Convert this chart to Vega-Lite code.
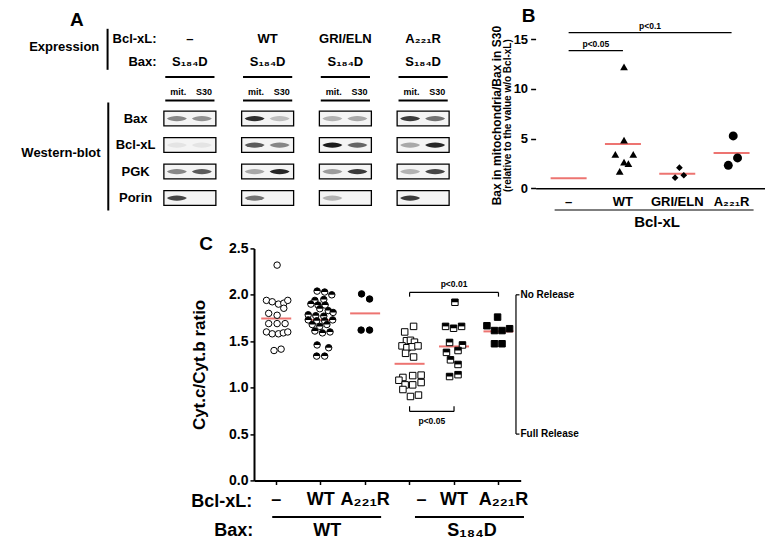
{
  "$schema": "https://vega.github.io/schema/vega-lite/v6.json",
  "background": "white",
  "padding": {"left": 21, "top": 7, "right": 0, "bottom": 0},
  "bounds": "flush",
  "spacing": 209.4,
  "resolve": {"scale": {"xOffset": "independent", "shape": "independent", "fill": "independent", "size": "independent", "opacity": "independent"}},
  "config": {
    "font": "Liberation Sans",
    "view": {"stroke": null},
    "axis": {"labelFontWeight": "bold", "titleFontWeight": "bold", "labelColor": "black", "titleColor": "black", "domainColor": "black", "tickColor": "black", "grid": false, "labelFont": "Liberation Sans", "titleFont": "Liberation Sans"}
  },
  "datasets": {
    "aGroups": [
      {"group": "–", "bax": "S₁₈₄D"},
      {"group": "WT", "bax": "S₁₈₄D"},
      {"group": "GRI/ELN", "bax": "S₁₈₄D"},
      {"group": "A₂₂₁R", "bax": "S₁₈₄D"}
    ],
    "aProteins": [{"protein": "Bax"}, {"protein": "Bcl-xL"}, {"protein": "PGK"}, {"protein": "Porin"}],
    "aBands": [
      {"group": "–", "protein": "Bax", "lane": "mit.", "intensity": 0.5},
      {"group": "–", "protein": "Bax", "lane": "S30", "intensity": 0.45},
      {"group": "–", "protein": "Bcl-xL", "lane": "mit.", "intensity": 0.07},
      {"group": "–", "protein": "Bcl-xL", "lane": "S30", "intensity": 0.07},
      {"group": "–", "protein": "PGK", "lane": "mit.", "intensity": 0.5},
      {"group": "–", "protein": "PGK", "lane": "S30", "intensity": 0.7},
      {"group": "–", "protein": "Porin", "lane": "mit.", "intensity": 0.8},
      {"group": "–", "protein": "Porin", "lane": "S30", "intensity": 0},
      {"group": "WT", "protein": "Bax", "lane": "mit.", "intensity": 0.9},
      {"group": "WT", "protein": "Bax", "lane": "S30", "intensity": 0.25},
      {"group": "WT", "protein": "Bcl-xL", "lane": "mit.", "intensity": 0.7},
      {"group": "WT", "protein": "Bcl-xL", "lane": "S30", "intensity": 0.5},
      {"group": "WT", "protein": "PGK", "lane": "mit.", "intensity": 0.35},
      {"group": "WT", "protein": "PGK", "lane": "S30", "intensity": 0.95},
      {"group": "WT", "protein": "Porin", "lane": "mit.", "intensity": 0.6},
      {"group": "WT", "protein": "Porin", "lane": "S30", "intensity": 0},
      {"group": "GRI/ELN", "protein": "Bax", "lane": "mit.", "intensity": 0.3},
      {"group": "GRI/ELN", "protein": "Bax", "lane": "S30", "intensity": 0.35},
      {"group": "GRI/ELN", "protein": "Bcl-xL", "lane": "mit.", "intensity": 1},
      {"group": "GRI/ELN", "protein": "Bcl-xL", "lane": "S30", "intensity": 0.65},
      {"group": "GRI/ELN", "protein": "PGK", "lane": "mit.", "intensity": 0.4},
      {"group": "GRI/ELN", "protein": "PGK", "lane": "S30", "intensity": 0.85},
      {"group": "GRI/ELN", "protein": "Porin", "lane": "mit.", "intensity": 0.3},
      {"group": "GRI/ELN", "protein": "Porin", "lane": "S30", "intensity": 0},
      {"group": "A₂₂₁R", "protein": "Bax", "lane": "mit.", "intensity": 0.85},
      {"group": "A₂₂₁R", "protein": "Bax", "lane": "S30", "intensity": 0.6},
      {"group": "A₂₂₁R", "protein": "Bcl-xL", "lane": "mit.", "intensity": 0.35},
      {"group": "A₂₂₁R", "protein": "Bcl-xL", "lane": "S30", "intensity": 0.95},
      {"group": "A₂₂₁R", "protein": "PGK", "lane": "mit.", "intensity": 0.3},
      {"group": "A₂₂₁R", "protein": "PGK", "lane": "S30", "intensity": 0.8},
      {"group": "A₂₂₁R", "protein": "Porin", "lane": "mit.", "intensity": 0.85},
      {"group": "A₂₂₁R", "protein": "Porin", "lane": "S30", "intensity": 0}
    ],
    "bPoints": [
      {"bclxl": "WT", "value": 12.2, "jitter": 0.02},
      {"bclxl": "WT", "value": 4.85, "jitter": 0.02},
      {"bclxl": "WT", "value": 3.4, "jitter": -0.14},
      {"bclxl": "WT", "value": 3.4, "jitter": 0.19},
      {"bclxl": "WT", "value": 2.64, "jitter": 0.02},
      {"bclxl": "WT", "value": 2.47, "jitter": 0.1},
      {"bclxl": "WT", "value": 1.7, "jitter": -0.06},
      {"bclxl": "GRI/ELN", "value": 2.07, "jitter": 0.04},
      {"bclxl": "GRI/ELN", "value": 1.07, "jitter": -0.04},
      {"bclxl": "GRI/ELN", "value": 1.31, "jitter": 0.12},
      {"bclxl": "A₂₂₁R", "value": 5.26, "jitter": 0.03},
      {"bclxl": "A₂₂₁R", "value": 3.05, "jitter": 0.11},
      {"bclxl": "A₂₂₁R", "value": 2.31, "jitter": -0.06}
    ],
    "bMeans": [
      {"bclxl": "–", "mean": 1.0},
      {"bclxl": "WT", "mean": 4.45},
      {"bclxl": "GRI/ELN", "mean": 1.47},
      {"bclxl": "A₂₂₁R", "mean": 3.55}
    ],
    "bTests": [
      {"from": "–", "to": "WT", "mid": "WT", "y": 13.83, "label": "p<0.05"},
      {"from": "–", "to": "A₂₂₁R", "mid": "GRI/ELN", "y": 15.64, "label": "p<0.1"}
    ],
    "cPoints": [
      {"group": "WT|–", "value": 2.32, "jitter": 0.02},
      {"group": "WT|–", "value": 1.94, "jitter": -0.22},
      {"group": "WT|–", "value": 1.925, "jitter": -0.09},
      {"group": "WT|–", "value": 1.9, "jitter": 0.05},
      {"group": "WT|–", "value": 1.91, "jitter": 0.17},
      {"group": "WT|–", "value": 1.94, "jitter": 0.26},
      {"group": "WT|–", "value": 1.855, "jitter": 0.17},
      {"group": "WT|–", "value": 1.8, "jitter": -0.17},
      {"group": "WT|–", "value": 1.78, "jitter": 0.02},
      {"group": "WT|–", "value": 1.69, "jitter": -0.17},
      {"group": "WT|–", "value": 1.69, "jitter": 0.02},
      {"group": "WT|–", "value": 1.69, "jitter": 0.2},
      {"group": "WT|–", "value": 1.6, "jitter": -0.22},
      {"group": "WT|–", "value": 1.58, "jitter": -0.09},
      {"group": "WT|–", "value": 1.58, "jitter": 0.05},
      {"group": "WT|–", "value": 1.59, "jitter": 0.16},
      {"group": "WT|–", "value": 1.6, "jitter": 0.26},
      {"group": "WT|–", "value": 1.4, "jitter": -0.05},
      {"group": "WT|–", "value": 1.415, "jitter": 0.11},
      {"group": "WT|WT", "value": 2.04, "jitter": -0.08},
      {"group": "WT|WT", "value": 2.03, "jitter": 0.09},
      {"group": "WT|WT", "value": 2.0, "jitter": 0.25},
      {"group": "WT|WT", "value": 1.94, "jitter": -0.13},
      {"group": "WT|WT", "value": 1.95, "jitter": 0.07},
      {"group": "WT|WT", "value": 1.9, "jitter": -0.22},
      {"group": "WT|WT", "value": 1.89, "jitter": -0.06},
      {"group": "WT|WT", "value": 1.89, "jitter": 0.1},
      {"group": "WT|WT", "value": 1.85, "jitter": -0.02},
      {"group": "WT|WT", "value": 1.83, "jitter": 0.17},
      {"group": "WT|WT", "value": 1.81, "jitter": 0.28},
      {"group": "WT|WT", "value": 1.785, "jitter": -0.28},
      {"group": "WT|WT", "value": 1.775, "jitter": -0.11},
      {"group": "WT|WT", "value": 1.77, "jitter": 0.07},
      {"group": "WT|WT", "value": 1.73, "jitter": -0.28},
      {"group": "WT|WT", "value": 1.72, "jitter": -0.09},
      {"group": "WT|WT", "value": 1.72, "jitter": 0.09},
      {"group": "WT|WT", "value": 1.73, "jitter": 0.27},
      {"group": "WT|WT", "value": 1.68, "jitter": -0.19},
      {"group": "WT|WT", "value": 1.66, "jitter": -0.02},
      {"group": "WT|WT", "value": 1.68, "jitter": 0.14},
      {"group": "WT|WT", "value": 1.61, "jitter": -0.13},
      {"group": "WT|WT", "value": 1.59, "jitter": 0.04},
      {"group": "WT|WT", "value": 1.6, "jitter": 0.21},
      {"group": "WT|WT", "value": 1.46, "jitter": -0.08},
      {"group": "WT|WT", "value": 1.43, "jitter": 0.18},
      {"group": "WT|WT", "value": 1.34, "jitter": -0.09},
      {"group": "WT|WT", "value": 1.34, "jitter": 0.09},
      {"group": "WT|A₂₂₁R", "value": 2.01, "jitter": -0.08},
      {"group": "WT|A₂₂₁R", "value": 1.955, "jitter": 0.1},
      {"group": "WT|A₂₂₁R", "value": 1.62, "jitter": -0.09},
      {"group": "WT|A₂₂₁R", "value": 1.62, "jitter": 0.1},
      {"group": "S₁₈₄D|–", "value": 1.6, "jitter": -0.11},
      {"group": "S₁₈₄D|–", "value": 1.66, "jitter": 0.09},
      {"group": "S₁₈₄D|–", "value": 1.505, "jitter": -0.07},
      {"group": "S₁₈₄D|–", "value": 1.51, "jitter": 0.02},
      {"group": "S₁₈₄D|–", "value": 1.49, "jitter": 0.11},
      {"group": "S₁₈₄D|–", "value": 1.45, "jitter": -0.17},
      {"group": "S₁₈₄D|–", "value": 1.43, "jitter": -0.06},
      {"group": "S₁₈₄D|–", "value": 1.44, "jitter": 0.06},
      {"group": "S₁₈₄D|–", "value": 1.45, "jitter": 0.19},
      {"group": "S₁₈₄D|–", "value": 1.37, "jitter": -0.09},
      {"group": "S₁₈₄D|–", "value": 1.33, "jitter": 0.09},
      {"group": "S₁₈₄D|–", "value": 1.11, "jitter": -0.15},
      {"group": "S₁₈₄D|–", "value": 1.13, "jitter": 0.07},
      {"group": "S₁₈₄D|–", "value": 1.135, "jitter": 0.26},
      {"group": "S₁₈₄D|–", "value": 1.08, "jitter": -0.24},
      {"group": "S₁₈₄D|–", "value": 1.03, "jitter": -0.1},
      {"group": "S₁₈₄D|–", "value": 1.03, "jitter": 0.07},
      {"group": "S₁₈₄D|–", "value": 1.055, "jitter": 0.26},
      {"group": "S₁₈₄D|–", "value": 0.98, "jitter": -0.15},
      {"group": "S₁₈₄D|–", "value": 0.905, "jitter": 0.02},
      {"group": "S₁₈₄D|–", "value": 0.92, "jitter": 0.2},
      {"group": "S₁₈₄D|WT", "value": 1.92, "jitter": 0.02},
      {"group": "S₁₈₄D|WT", "value": 1.66, "jitter": -0.19},
      {"group": "S₁₈₄D|WT", "value": 1.64, "jitter": -0.01},
      {"group": "S₁₈₄D|WT", "value": 1.66, "jitter": 0.17},
      {"group": "S₁₈₄D|WT", "value": 1.487, "jitter": -0.1},
      {"group": "S₁₈₄D|WT", "value": 1.46, "jitter": 0.19},
      {"group": "S₁₈₄D|WT", "value": 1.38, "jitter": -0.17},
      {"group": "S₁₈₄D|WT", "value": 1.4, "jitter": 0.09},
      {"group": "S₁₈₄D|WT", "value": 1.3, "jitter": -0.08},
      {"group": "S₁₈₄D|WT", "value": 1.25, "jitter": 0.09},
      {"group": "S₁₈₄D|WT", "value": 1.12, "jitter": -0.1},
      {"group": "S₁₈₄D|WT", "value": 1.14, "jitter": 0.09},
      {"group": "S₁₈₄D|A₂₂₁R", "value": 1.76, "jitter": -0.02},
      {"group": "S₁₈₄D|A₂₂₁R", "value": 1.667, "jitter": -0.26},
      {"group": "S₁₈₄D|A₂₂₁R", "value": 1.615, "jitter": -0.09},
      {"group": "S₁₈₄D|A₂₂₁R", "value": 1.615, "jitter": 0.08},
      {"group": "S₁₈₄D|A₂₂₁R", "value": 1.635, "jitter": 0.25},
      {"group": "S₁₈₄D|A₂₂₁R", "value": 1.473, "jitter": -0.09},
      {"group": "S₁₈₄D|A₂₂₁R", "value": 1.473, "jitter": 0.08}
    ],
    "cMeans": [
      {"group": "WT|–", "mean": 1.745},
      {"group": "WT|WT", "mean": 1.73},
      {"group": "WT|A₂₂₁R", "mean": 1.8},
      {"group": "S₁₈₄D|–", "mean": 1.257},
      {"group": "S₁₈₄D|WT", "mean": 1.444},
      {"group": "S₁₈₄D|A₂₂₁R", "mean": 1.606}
    ],
    "cTests": [
      {"from": "S₁₈₄D|–", "to": "S₁₈₄D|A₂₂₁R", "y": 2.026, "tip": 1.98, "label": "p<0.01"},
      {"from": "S₁₈₄D|–", "to": "S₁₈₄D|WT", "y": 0.744, "tip": 0.8, "label": "p<0.05"}
    ],
    "cRelease": [
      {"label": "No Release", "y": 2.0},
      {"label": "Full Release", "y": 0.5}
    ]
  },
  "vconcat": [
    {
      "bounds": "flush",
      "spacing": 73.6,
      "resolve": {"scale": {"xOffset": "independent", "opacity": "independent"}},
      "hconcat": [
        {
          "width": 311,
          "height": 159,
          "layer": [
            {
              "data": {"name": "aGroups"},
              "mark": {"type": "text", "fontSize": 13, "fontWeight": "bold", "color": "black"},
              "encoding": {
                "x": {"field": "group", "type": "nominal", "scale": {"type": "point", "domain": ["–", "WT", "GRI/ELN", "A₂₂₁R"], "padding": 0.5}, "axis": null},
                "y": {"datum": "Bcl-xL:", "type": "nominal", "scale": {"type": "point", "domain": ["Bcl-xL:", "Bax:", "lanes", "Bax", "Bcl-xL", "PGK", "Porin"], "padding": 0}, "axis": null},
                "text": {"field": "group"}
              }
            },
            {
              "data": {"name": "aGroups"},
              "mark": {"type": "text", "fontSize": 13, "fontWeight": "bold", "color": "black", "dy": -4},
              "encoding": {
                "x": {"field": "group", "type": "nominal"},
                "y": {"datum": "Bax:", "type": "nominal"},
                "text": {"field": "bax"}
              }
            },
            {
              "data": {"name": "aGroups"},
              "mark": {"type": "rule", "color": "black", "strokeWidth": 2, "xOffset": -24.6, "x2Offset": 24.6, "yOffset": -14.9},
              "encoding": {
                "x": {"field": "group", "type": "nominal"},
                "x2": {"field": "group"},
                "y": {"datum": "lanes", "type": "nominal"}
              }
            },
            {
              "data": {"name": "aGroups"},
              "mark": {"type": "rule", "color": "black", "strokeWidth": 2, "xOffset": -24.6, "x2Offset": 24.6, "yOffset": 8.5},
              "encoding": {
                "x": {"field": "group", "type": "nominal"},
                "x2": {"field": "group"},
                "y": {"datum": "lanes", "type": "nominal"}
              }
            },
            {
              "data": {"name": "aGroups"},
              "mark": {"type": "text", "text": "mit.", "fontSize": 9, "fontWeight": "bold", "color": "black", "dx": -11.6},
              "encoding": {
                "x": {"field": "group", "type": "nominal"},
                "y": {"datum": "lanes", "type": "nominal"}
              }
            },
            {
              "data": {"name": "aGroups"},
              "mark": {"type": "text", "text": "S30", "fontSize": 9, "fontWeight": "bold", "color": "black", "dx": 14},
              "encoding": {
                "x": {"field": "group", "type": "nominal"},
                "y": {"datum": "lanes", "type": "nominal"}
              }
            },
            {
              "data": {"name": "aBands"},
              "transform": [{"filter": "datum.lane === 'mit.'"}],
              "mark": {"type": "point", "shape": "M-1,-0.28H1V0.28H-1Z", "size": 2704, "filled": true, "fill": "#f4f4f4", "stroke": "black", "strokeWidth": 1.3, "opacity": 1},
              "encoding": {
                "x": {"field": "group", "type": "nominal"},
                "y": {"field": "protein", "type": "nominal"}
              }
            },
            {
              "data": {"name": "aBands"},
              "transform": [{"filter": "datum.lane === 'mit.'"}],
              "mark": {"type": "point", "shape": "M-1,0C-0.6,-0.35,0.6,-0.35,1,0C0.6,0.35,-0.6,0.35,-1,0Z", "size": 400, "filled": true, "color": "#1a1a1a", "strokeWidth": 0, "xOffset": -13},
              "encoding": {
                "x": {"field": "group", "type": "nominal"},
                "y": {"field": "protein", "type": "nominal"},
                "opacity": {"field": "intensity", "type": "quantitative", "scale": null}
              }
            },
            {
              "data": {"name": "aBands"},
              "transform": [{"filter": "datum.lane === 'S30'"}],
              "mark": {"type": "point", "shape": "M-1,0C-0.6,-0.35,0.6,-0.35,1,0C0.6,0.35,-0.6,0.35,-1,0Z", "size": 400, "filled": true, "color": "#1a1a1a", "strokeWidth": 0, "xOffset": 12},
              "encoding": {
                "x": {"field": "group", "type": "nominal"},
                "y": {"field": "protein", "type": "nominal"},
                "opacity": {"field": "intensity", "type": "quantitative", "scale": null}
              }
            },
            {
              "data": {"name": "aProteins"},
              "mark": {"type": "text", "fontSize": 13, "fontWeight": "bold", "color": "black", "dx": -54.3},
              "encoding": {
                "x": {"datum": "–", "type": "nominal"},
                "y": {"field": "protein", "type": "nominal"},
                "text": {"field": "protein"}
              }
            },
            {
              "data": {"values": [{"label": "Bcl-xL:"}]},
              "mark": {"type": "text", "fontSize": 13, "fontWeight": "bold", "color": "black", "align": "right", "dx": -33.3},
              "encoding": {
                "x": {"datum": "–", "type": "nominal"},
                "y": {"datum": "Bcl-xL:", "type": "nominal"},
                "text": {"field": "label"}
              }
            },
            {
              "data": {"values": [{"label": "Bax:"}]},
              "mark": {"type": "text", "fontSize": 13, "fontWeight": "bold", "color": "black", "align": "right", "dx": -33.3, "dy": -4},
              "encoding": {
                "x": {"datum": "–", "type": "nominal"},
                "y": {"datum": "Bax:", "type": "nominal"},
                "text": {"field": "label"}
              }
            },
            {
              "data": {"values": [{"label": "Expression"}]},
              "mark": {"type": "text", "fontSize": 13, "fontWeight": "bold", "color": "black", "align": "right", "dx": -90.6, "dy": 7.5},
              "encoding": {
                "x": {"datum": "–", "type": "nominal"},
                "y": {"datum": "Bcl-xL:", "type": "nominal"},
                "text": {"field": "label"}
              }
            },
            {
              "data": {"values": [{"label": "Western-blot"}]},
              "mark": {"type": "text", "fontSize": 13, "fontWeight": "bold", "color": "black", "align": "right", "dx": -89.3, "dy": 8},
              "encoding": {
                "x": {"datum": "–", "type": "nominal"},
                "y": {"datum": "Bcl-xL", "type": "nominal"},
                "text": {"field": "label"}
              }
            },
            {
              "data": {"values": [{"label": "A"}]},
              "mark": {"type": "text", "fontSize": 19, "fontWeight": "bold", "color": "black", "dx": -113, "dy": -19},
              "encoding": {
                "x": {"datum": "–", "type": "nominal"},
                "y": {"datum": "Bcl-xL:", "type": "nominal"},
                "text": {"field": "label"}
              }
            },
            {
              "data": {"values": [{"bracket": "Expression"}]},
              "mark": {"type": "rule", "color": "black", "strokeWidth": 2, "xOffset": -82.3, "yOffset": -10.2, "y2Offset": 4.3},
              "encoding": {
                "x": {"datum": "–", "type": "nominal"},
                "y": {"datum": "Bcl-xL:", "type": "nominal"},
                "y2": {"datum": "Bax:"}
              }
            },
            {
              "data": {"values": [{"bracket": "Western-blot"}]},
              "mark": {"type": "rule", "color": "black", "strokeWidth": 2, "xOffset": -81.6, "yOffset": 10.5, "y2Offset": 12.5},
              "encoding": {
                "x": {"datum": "–", "type": "nominal"},
                "y": {"datum": "lanes", "type": "nominal"},
                "y2": {"datum": "Porin"}
              }
            }
          ]
        },
        {
          "width": 229,
          "height": 149.3,
          "layer": [
            {
              "data": {"name": "bMeans"},
              "mark": {"type": "tick", "color": "#e53935", "size": 36, "thickness": 2},
              "encoding": {
                "x": {"field": "bclxl", "type": "nominal", "scale": {"type": "band", "domain": ["–", "WT", "GRI/ELN", "A₂₂₁R"], "paddingInner": 0, "paddingOuter": 0.108},
                  "axis": {"title": "Bcl-xL", "titleFontSize": 15, "titlePadding": 6, "titleX": 121, "labelFontSize": 13, "labelPadding": 7, "labelAngle": 0, "ticks": false, "tickSize": 0, "domainWidth": 1.5}},
                "y": {"field": "mean", "type": "quantitative", "scale": {"domain": [0, 15], "nice": false},
                  "axis": {"values": [0, 5, 10, 15], "title": null, "domain": false, "tickSize": 5, "tickWidth": 1.5, "labelFontSize": 13, "labelPadding": 3}}
              }
            },
            {
              "data": {"name": "bPoints"},
              "transform": [{"filter": "datum.bclxl === 'WT'"}],
              "mark": {"type": "point", "shape": "triangle-up", "size": 60, "filled": true, "color": "black", "opacity": 1},
              "encoding": {
                "x": {"field": "bclxl", "type": "nominal"},
                "xOffset": {"field": "jitter", "type": "quantitative", "scale": {"domain": [-0.5, 0.5]}},
                "y": {"field": "value", "type": "quantitative"}
              }
            },
            {
              "data": {"name": "bPoints"},
              "transform": [{"filter": "datum.bclxl === 'GRI/ELN'"}],
              "mark": {"type": "point", "shape": "diamond", "size": 45, "filled": true, "color": "black", "opacity": 1},
              "encoding": {
                "x": {"field": "bclxl", "type": "nominal"},
                "xOffset": {"field": "jitter", "type": "quantitative"},
                "y": {"field": "value", "type": "quantitative"}
              }
            },
            {
              "data": {"name": "bPoints"},
              "transform": [{"filter": "datum.bclxl === 'A₂₂₁R'"}],
              "mark": {"type": "point", "shape": "circle", "size": 80, "filled": true, "color": "black", "opacity": 1},
              "encoding": {
                "x": {"field": "bclxl", "type": "nominal"},
                "xOffset": {"field": "jitter", "type": "quantitative"},
                "y": {"field": "value", "type": "quantitative"}
              }
            },
            {
              "data": {"name": "bTests"},
              "mark": {"type": "rule", "color": "black", "strokeWidth": 1.2},
              "encoding": {
                "x": {"field": "from", "type": "nominal"},
                "x2": {"field": "to"},
                "y": {"field": "y", "type": "quantitative"}
              }
            },
            {
              "data": {"name": "bTests"},
              "mark": {"type": "text", "fontSize": 8.5, "fontWeight": "bold", "color": "black", "baseline": "bottom", "dy": -2},
              "encoding": {
                "x": {"field": "mid", "type": "nominal"},
                "xOffset": {"datum": -0.5, "type": "quantitative"},
                "y": {"field": "y", "type": "quantitative"},
                "text": {"field": "label"}
              }
            },
            {
              "data": {"values": [{"label": "Bcl-xL underline"}]},
              "mark": {"type": "rule", "color": "black", "strokeWidth": 1.2, "xOffset": -14, "x2Offset": 22, "yOffset": 21.7},
              "encoding": {
                "x": {"datum": "–", "type": "nominal"},
                "x2": {"datum": "A₂₂₁R"},
                "y": {"datum": 0, "type": "quantitative"}
              }
            },
            {
              "data": {"values": [{"label": "Bax in mitochondria/Bax in S30"}]},
              "mark": {"type": "text", "fontSize": 12, "fontWeight": "bold", "color": "black", "angle": 270, "xOffset": -72},
              "encoding": {
                "x": {"datum": "–", "type": "nominal"},
                "y": {"datum": 7.3, "type": "quantitative"},
                "text": {"field": "label"}
              }
            },
            {
              "data": {"values": [{"label": "(relative to the value w/o Bcl-xL)"}]},
              "mark": {"type": "text", "fontSize": 10, "fontWeight": "bold", "color": "black", "angle": 270, "xOffset": -60.3},
              "encoding": {
                "x": {"datum": "–", "type": "nominal"},
                "y": {"datum": 7.3, "type": "quantitative"},
                "text": {"field": "label"}
              }
            },
            {
              "data": {"values": [{"label": "B"}]},
              "mark": {"type": "text", "fontSize": 19, "fontWeight": "bold", "color": "black", "dx": -40, "dy": -23},
              "encoding": {
                "x": {"datum": "–", "type": "nominal"},
                "y": {"datum": 15, "type": "quantitative"},
                "text": {"field": "label"}
              }
            }
          ]
        }
      ]
    },
    {
      "bounds": "flush",
      "spacing": 7,
      "resolve": {"scale": {"xOffset": "independent"}},
      "hconcat": [
        {"width": 95.6, "height": 10, "data": {"values": []}, "mark": "point"},
        {
          "width": 266.7,
          "height": 232.1,
          "layer": [
            {
              "data": {"name": "cMeans"},
              "mark": {"type": "tick", "color": "#e53935", "size": 30, "thickness": 2},
              "encoding": {
                "x": {"field": "group", "type": "nominal", "scale": {"type": "band", "domain": ["WT|–", "WT|WT", "WT|A₂₂₁R", "S₁₈₄D|–", "S₁₈₄D|WT", "S₁₈₄D|A₂₂₁R"], "paddingInner": 0, "paddingOuter": 0},
                  "axis": {"title": null, "labelExpr": "slice(datum.label, indexof(datum.label, '|') + 1)", "labelFontSize": 18, "labelPadding": 6, "labelAngle": 0, "tickSize": 4, "tickWidth": 1.5, "domainWidth": 2,
                    "labelOffset": {"condition": [{"test": "datum.value === 'S₁₈₄D|–'", "value": 12}, {"test": "datum.value === 'S₁₈₄D|A₂₂₁R'", "value": 5}], "value": 0}}},
                "y": {"field": "mean", "type": "quantitative", "scale": {"domain": [0, 2.5], "nice": false},
                  "axis": {"values": [0, 0.5, 1, 1.5, 2, 2.5], "format": ".1f", "title": "Cyt.c/Cyt.b ratio", "titleFontSize": 17, "titlePadding": 20, "labelFontSize": 14, "labelPadding": 2, "tickSize": 4, "tickWidth": 1.5, "domainWidth": 2}}
              }
            },
            {
              "data": {"name": "cPoints"},
              "transform": [{"filter": {"field": "group", "oneOf": ["WT|–", "WT|WT"]}}],
              "mark": {"type": "point", "shape": "circle", "filled": true, "fill": "white", "stroke": "black", "strokeWidth": 1, "size": 42, "opacity": 1},
              "encoding": {
                "x": {"field": "group", "type": "nominal"},
                "xOffset": {"field": "jitter", "type": "quantitative", "scale": {"domain": [-0.5, 0.5]}},
                "y": {"field": "value", "type": "quantitative"}
              }
            },
            {
              "data": {"name": "cPoints"},
              "transform": [{"filter": {"field": "group", "oneOf": ["WT|A₂₂₁R"]}}],
              "mark": {"type": "point", "shape": "circle", "filled": true, "fill": "black", "stroke": "black", "strokeWidth": 1, "size": 42, "opacity": 1},
              "encoding": {
                "x": {"field": "group", "type": "nominal"},
                "xOffset": {"field": "jitter", "type": "quantitative"},
                "y": {"field": "value", "type": "quantitative"}
              }
            },
            {
              "data": {"name": "cPoints"},
              "transform": [{"filter": {"field": "group", "oneOf": ["S₁₈₄D|–", "S₁₈₄D|WT"]}}],
              "mark": {"type": "point", "shape": "square", "filled": true, "fill": "white", "stroke": "black", "strokeWidth": 1, "size": 42, "opacity": 1},
              "encoding": {
                "x": {"field": "group", "type": "nominal"},
                "xOffset": {"field": "jitter", "type": "quantitative"},
                "y": {"field": "value", "type": "quantitative"}
              }
            },
            {
              "data": {"name": "cPoints"},
              "transform": [{"filter": {"field": "group", "oneOf": ["S₁₈₄D|A₂₂₁R"]}}],
              "mark": {"type": "point", "shape": "square", "filled": true, "fill": "black", "stroke": "black", "strokeWidth": 1, "size": 42, "opacity": 1},
              "encoding": {
                "x": {"field": "group", "type": "nominal"},
                "xOffset": {"field": "jitter", "type": "quantitative"},
                "y": {"field": "value", "type": "quantitative"}
              }
            },
            {
              "data": {"name": "cPoints"},
              "transform": [{"filter": "datum.group === 'WT|WT'"}],
              "mark": {"type": "point", "filled": true, "color": "black", "strokeWidth": 0, "size": 42, "opacity": 1, "shape": "M-1,0A1,1,0,0,1,1,0Z"},
              "encoding": {
                "x": {"field": "group", "type": "nominal"},
                "xOffset": {"field": "jitter", "type": "quantitative"},
                "y": {"field": "value", "type": "quantitative"}
              }
            },
            {
              "data": {"name": "cPoints"},
              "transform": [{"filter": "datum.group === 'S₁₈₄D|WT'"}],
              "mark": {"type": "point", "filled": true, "color": "black", "strokeWidth": 0, "size": 42, "opacity": 1, "shape": "M-1,-1H1V0H-1Z"},
              "encoding": {
                "x": {"field": "group", "type": "nominal"},
                "xOffset": {"field": "jitter", "type": "quantitative"},
                "y": {"field": "value", "type": "quantitative"}
              }
            },
            {
              "data": {"name": "cTests"},
              "mark": {"type": "rule", "color": "black", "strokeWidth": 1.2},
              "encoding": {
                "x": {"field": "from", "type": "nominal"},
                "x2": {"field": "to"},
                "y": {"field": "y", "type": "quantitative"}
              }
            },
            {
              "data": {"name": "cTests"},
              "mark": {"type": "rule", "color": "black", "strokeWidth": 1.2},
              "encoding": {
                "x": {"field": "from", "type": "nominal"},
                "y": {"field": "y", "type": "quantitative"},
                "y2": {"field": "tip"}
              }
            },
            {
              "data": {"name": "cTests"},
              "mark": {"type": "rule", "color": "black", "strokeWidth": 1.2},
              "encoding": {
                "x": {"field": "to", "type": "nominal"},
                "y": {"field": "y", "type": "quantitative"},
                "y2": {"field": "tip"}
              }
            },
            {
              "data": {"name": "cTests"},
              "transform": [{"filter": "datum.label === 'p<0.01'"}],
              "mark": {"type": "text", "fontSize": 8.5, "fontWeight": "bold", "color": "black", "baseline": "bottom", "dy": -3},
              "encoding": {
                "x": {"datum": "S₁₈₄D|WT", "type": "nominal"},
                "y": {"field": "y", "type": "quantitative"},
                "text": {"field": "label"}
              }
            },
            {
              "data": {"name": "cTests"},
              "transform": [{"filter": "datum.label === 'p<0.05'"}],
              "mark": {"type": "text", "fontSize": 8.5, "fontWeight": "bold", "color": "black", "baseline": "top", "dy": 6},
              "encoding": {
                "x": {"datum": "S₁₈₄D|WT", "type": "nominal"},
                "xOffset": {"datum": -0.5, "type": "quantitative"},
                "y": {"field": "y", "type": "quantitative"},
                "text": {"field": "label"}
              }
            },
            {
              "data": {"values": [{"top": 2.0, "bottom": 0.5}]},
              "mark": {"type": "rule", "color": "black", "strokeWidth": 1.2, "xOffset": 17.5},
              "encoding": {
                "x": {"datum": "S₁₈₄D|A₂₂₁R", "type": "nominal"},
                "y": {"field": "top", "type": "quantitative"},
                "y2": {"field": "bottom"}
              }
            },
            {
              "data": {"name": "cRelease"},
              "mark": {"type": "rule", "color": "black", "strokeWidth": 1.2, "xOffset": 17.5, "x2Offset": 21},
              "encoding": {
                "x": {"datum": "S₁₈₄D|A₂₂₁R", "type": "nominal"},
                "x2": {"datum": "S₁₈₄D|A₂₂₁R"},
                "y": {"field": "y", "type": "quantitative"}
              }
            },
            {
              "data": {"name": "cRelease"},
              "mark": {"type": "text", "fontSize": 10, "fontWeight": "bold", "color": "black", "align": "left", "dx": 22},
              "encoding": {
                "x": {"datum": "S₁₈₄D|A₂₂₁R", "type": "nominal"},
                "y": {"field": "y", "type": "quantitative"},
                "text": {"field": "label"}
              }
            },
            {
              "data": {"values": [{"label": "Bcl-xL:"}]},
              "mark": {"type": "text", "fontSize": 18, "fontWeight": "bold", "color": "black", "align": "right", "dx": -24, "dy": 21},
              "encoding": {
                "x": {"datum": "WT|–", "type": "nominal"},
                "y": {"datum": 0, "type": "quantitative"},
                "text": {"field": "label"}
              }
            },
            {
              "data": {"values": [{"label": "Bax:"}]},
              "mark": {"type": "text", "fontSize": 18, "fontWeight": "bold", "color": "black", "align": "right", "dx": -23, "dy": 50},
              "encoding": {
                "x": {"datum": "WT|–", "type": "nominal"},
                "y": {"datum": 0, "type": "quantitative"},
                "text": {"field": "label"}
              }
            },
            {
              "data": {"values": [{"bax": "WT"}]},
              "mark": {"type": "rule", "color": "black", "strokeWidth": 2, "xOffset": -4, "x2Offset": 16, "yOffset": 36.6},
              "encoding": {
                "x": {"datum": "WT|–", "type": "nominal"},
                "x2": {"datum": "WT|A₂₂₁R"},
                "y": {"datum": 0, "type": "quantitative"}
              }
            },
            {
              "data": {"values": [{"bax": "S₁₈₄D"}]},
              "mark": {"type": "rule", "color": "black", "strokeWidth": 2, "xOffset": 5.4, "x2Offset": 25.5, "yOffset": 36.6},
              "encoding": {
                "x": {"datum": "S₁₈₄D|–", "type": "nominal"},
                "x2": {"datum": "S₁₈₄D|A₂₂₁R"},
                "y": {"datum": 0, "type": "quantitative"}
              }
            },
            {
              "data": {"values": [{"bax": "WT"}]},
              "mark": {"type": "text", "fontSize": 18, "fontWeight": "bold", "color": "black", "dx": 6.6, "dy": 50},
              "encoding": {
                "x": {"datum": "WT|WT", "type": "nominal"},
                "y": {"datum": 0, "type": "quantitative"},
                "text": {"field": "bax"}
              }
            },
            {
              "data": {"values": [{"bax": "S₁₈₄D"}]},
              "mark": {"type": "text", "fontSize": 18, "fontWeight": "bold", "color": "black", "dx": 18, "dy": 50},
              "encoding": {
                "x": {"datum": "S₁₈₄D|WT", "type": "nominal"},
                "y": {"datum": 0, "type": "quantitative"},
                "text": {"field": "bax"}
              }
            },
            {
              "data": {"values": [{"label": "C"}]},
              "mark": {"type": "text", "fontSize": 19, "fontWeight": "bold", "color": "black", "dx": -70, "dy": -4},
              "encoding": {
                "x": {"datum": "WT|–", "type": "nominal"},
                "y": {"datum": 2.5, "type": "quantitative"},
                "text": {"field": "label"}
              }
            }
          ]
        }
      ]
    }
  ]
}
